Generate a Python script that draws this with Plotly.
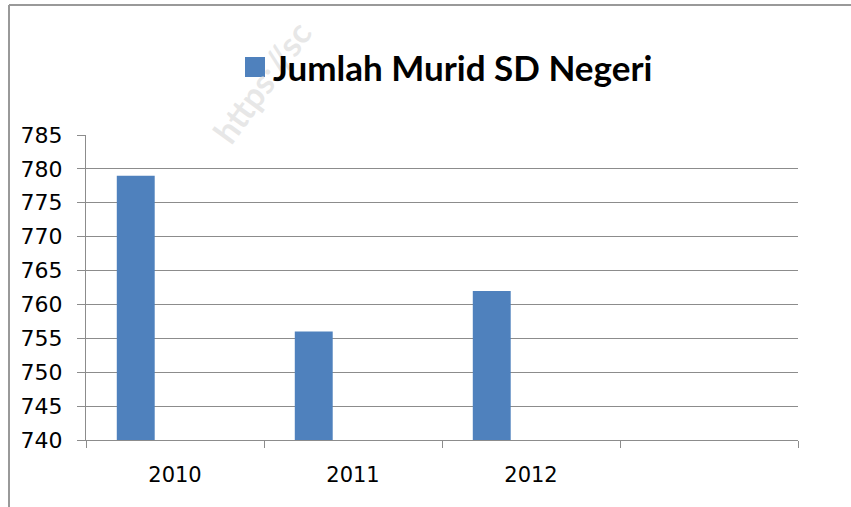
import plotly.graph_objects as go

categories = ["2010", "2011", "2012", " "]
values = [779, 756, 762, None]
series_name = "Jumlah Murid SD Negeri"
y_ticks = [740, 745, 750, 755, 760, 765, 770, 775, 780, 785]

W, H = 851, 507
L, R, T, B = 86, 798, 135, 440
pw, ph = R - L, B - T

def px(x):
    return (x - L) / pw

def py(y):
    return (B - y) / ph

BLUE = "#4F81BD"
GRID = "#8C8C8C"

fig = go.Figure()
fig.add_trace(go.Bar(
    x=categories, y=values, name=series_name,
    marker=dict(color=BLUE, line=dict(width=0)),
    width=0.213, offset=-0.327, showlegend=False,
))

fig.update_layout(
    width=W, height=H,
    margin=dict(l=L, r=W - R, t=T, b=H - B, pad=0),
    paper_bgcolor="white", plot_bgcolor="white",
    showlegend=False,
    xaxis=dict(
        type="category", categoryorder="array", categoryarray=categories,
        tickson="boundaries", ticks="outside", ticklen=7, tickcolor=GRID, tickwidth=1,
        showline=True, linecolor=GRID, linewidth=1, showgrid=False,
        tickfont=dict(family="DejaVu Sans", size=21, color="#000"),
        ticklabelstandoff=16,
        range=[-0.5, 3.5],
    ),
    yaxis=dict(
        range=[740, 785], tickvals=y_ticks, ticks="outside", ticklen=8,
        tickcolor=GRID, tickwidth=1,
        showline=True, linecolor=GRID, linewidth=1,
        showgrid=True, gridcolor=GRID, gridwidth=1, zeroline=False,
        tickfont=dict(family="DejaVu Sans", size=22, color="#000"),
        ticklabelstandoff=10,
    ),
    shapes=[
        dict(type="rect", xref="paper", yref="paper",
             x0=px(245), x1=px(265), y0=py(77), y1=py(57),
             fillcolor=BLUE, line=dict(width=0)),
        dict(type="line", xref="paper", yref="paper",
             x0=px(9), x1=px(851), y0=py(5), y1=py(5),
             line=dict(color="#999999", width=2)),
        dict(type="line", xref="paper", yref="paper",
             x0=px(9), x1=px(9), y0=py(5), y1=py(507),
             line=dict(color="#999999", width=2)),
    ],
    annotations=[
        dict(text="<b>https://sc</b>", xref="paper", yref="paper",
             x=px(262), y=py(82), showarrow=False, textangle=-54,
             font=dict(family="Lato", size=34, color="rgba(215,215,215,0.6)"),
             xanchor="center", yanchor="middle"),
        dict(text="<b>" + series_name + "</b>", xref="paper", yref="paper",
             x=px(271), y=py(67), showarrow=False,
             xanchor="left", yanchor="middle",
             font=dict(family="Lato", size=35, color="#000")),
    ],
)

fig.write_html("out.html", config={"displayModeBar": False},
               post_script="document.body.style.margin='0';document.body.style.overflow='hidden';")
